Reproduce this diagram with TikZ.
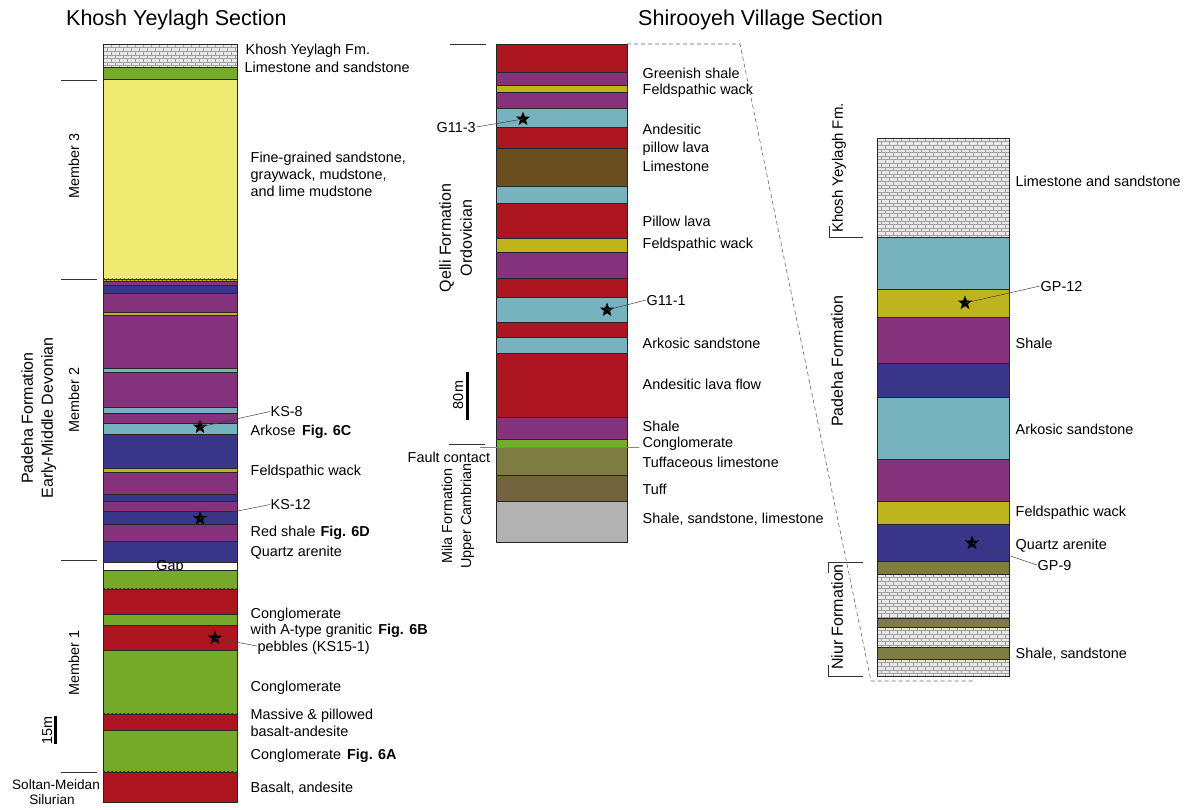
\documentclass[tikz,border=0pt]{standalone}
\usepackage{fontspec}
\setmainfont{Liberation Sans}
\usetikzlibrary{shapes.geometric,decorations.pathmorphing}

\definecolor{cRed}{RGB}{173,21,32}
\definecolor{cPur}{RGB}{132,50,124}
\definecolor{cBlu}{RGB}{57,54,138}
\definecolor{cCya}{RGB}{119,179,191}
\definecolor{cYel}{RGB}{189,180,30}
\definecolor{cLYe}{RGB}{238,234,114}
\definecolor{cGrn}{RGB}{118,170,42}
\definecolor{cBrn}{RGB}{107,78,31}
\definecolor{cOli}{RGB}{125,124,65}
\definecolor{cTuf}{RGB}{115,100,64}
\definecolor{cGry}{RGB}{179,178,179}
\definecolor{cFault}{RGB}{214,95,95}

\newcommand\lmst[4]{%
  \begin{scope}
    \clip (#1,#2) rectangle (#3,#4);
    \fill[gray!18] (#1,#2) rectangle (#3,#4);
    \pgfmathtruncatemacro\nr{(#4-#2)/3.6}
    \foreach \r in {0,...,\nr}{%
      \pgfmathsetmacro\yy{#2+\r*3.6}
      \pgfmathsetmacro\off{mod(\r,2)*4}
      \draw[gray!75,line width=0.4pt] (#1,\yy) -- (#3,\yy);
      \foreach \c in {0,8,...,136}{\draw[gray!75,line width=0.4pt] (#1+\c+\off,\yy) -- ++(0,3.6);}
    }
  \end{scope}
  \draw[bed] (#1,#2) rectangle (#3,#4);
}

\begin{document}
\begin{tikzpicture}[x=1pt,y=-1pt,
  bed/.style={draw=black!85, line width=0.6pt},
  lbl/.style={font=\fontsize{14.4}{17}\selectfont, anchor=west, inner sep=0.5pt, text height=10.3pt, text depth=0pt},
  ttl/.style={font=\fontsize{21.5}{25}\selectfont, anchor=west, inner sep=0pt, text height=15.4pt, text depth=0pt},
  rot/.style={font=\fontsize{16}{19}\selectfont, rotate=90, inner sep=0pt, text height=11.5pt, text depth=0pt},
  mem/.style={font=\fontsize{14.4}{17}\selectfont, rotate=90, inner sep=0pt, text height=10.3pt, text depth=0pt},
  tick/.style={line width=0.7pt, black!80},
  leader/.style={line width=0.5pt, black!75},
  smp/.style={star, star points=5, star point ratio=2.4, fill=black, inner sep=0pt, minimum size=15pt},
  wavy/.style={decorate, decoration={snake, amplitude=0.8pt, segment length=4pt}, line width=0.6pt, black!80},
  sbar/.style={line width=3pt},
]
\path[use as bounding box] (0,0) rectangle (1192,809);

% ---------------- titles
\node[ttl] (t1) at (66,18) {Khosh Yeylagh Section};
\node[ttl] (t2) at (638,18) {Shirooyeh Village Section};

% ---------------- left column (Khosh Yeylagh)
\lmst{103}{44}{237}{67}
\foreach \a/\b/\c in {67/79/cGrn, 79/279/cLYe, 279/281/cYel, 281/285/cPur, 285/293/cBlu,
  293/312/cPur, 312/315/cYel, 315/368/cPur, 368/372/cCya, 372/407/cPur, 407/413/cCya,
  413/423/cPur, 423/434/cCya, 434/468/cBlu, 468/472/cYel, 472/494/cPur, 494/501/cBlu,
  501/511/cPur, 511/524/cBlu, 524/541/cPur, 541/562/cBlu, 562/570/white}
  \filldraw[bed, fill=\c] (103,\a) rectangle (237,\b);
\node[lbl, anchor=center] (gap) at (170,565) {Gap};
\foreach \a/\b/\c in {570/589/cGrn, 589/614/cRed, 614/625/cGrn, 625/650/cRed, 650/714/cGrn,
  714/730/cRed, 730/772/cGrn, 772/802/cRed}
  \filldraw[bed, fill=\c] (103,\a) rectangle (237,\b);
\foreach \y in {279.5,589,714,772}
  \draw[wavy] (103,\y) -- (237,\y);

% left ticks and scale
\foreach \y in {80,279,560,772} \draw[tick] (61,\y) -- (97,\y);
\draw[sbar] (55,716) -- (55,744);

% left rotated labels
\node[rot] (pf) at (27,418) {Padeha Formation};
\node[rot] (emd) at (47,418) {Early-Middle Devonian};
\node[mem] (m3) at (74,166) {Member 3};
\node[mem] (m2) at (74,400) {Member 2};
\node[mem] (m1) at (74,663) {Member 1};
\node[mem] (s15) at (47,730) {15m};
\node[lbl, anchor=center, font=\fontsize{13.6}{16}\selectfont] (sm) at (56,784) {Soltan-Meidan};
\node[lbl, anchor=center, font=\fontsize{13.6}{16}\selectfont] (sil) at (52,799.5) {Silurian};

% left labels
\node[lbl] (kyf) at (245,49) {Khosh Yeylagh Fm.};
\node[lbl] (kyl) at (244,67) {Limestone and sandstone};
\node[lbl] (fg1) at (250,157) {Fine-grained sandstone,};
\node[lbl] (fg2) at (250,174) {graywack, mudstone,};
\node[lbl] (fg3) at (250,191.5) {and lime mudstone};
\node[lbl] (ks8) at (270,411.5) {KS-8};
\node[lbl] (ark) at (250,430) {Arkose\hspace{6.5pt}\textbf{Fig. 6C}};
\node[lbl] (fwl) at (250,470) {Feldspathic wack};
\node[lbl] (ks12) at (270,504.5) {KS-12};
\node[lbl] (rsh) at (250,531) {Red shale\hspace{5pt}\textbf{Fig. 6D}};
\node[lbl] (qal) at (250,551) {Quartz arenite};
\node[lbl] (cg1) at (250,613) {Conglomerate};
\node[lbl] (cg2) at (250,629.5) {with A-type granitic\hspace{6pt}\textbf{Fig. 6B}};
\node[lbl] (peb) at (257,646) {pebbles (KS15-1)};
\node[lbl] (cg3) at (250,686) {Conglomerate};
\node[lbl] (mas1) at (250,714) {Massive \& pillowed};
\node[lbl] (mas2) at (250,731) {basalt-andesite};
\node[lbl] (cg4) at (250,754) {Conglomerate\hspace{6pt}\textbf{Fig. 6A}};
\node[lbl] (bas) at (250,787.5) {Basalt, andesite};

\node[smp] (s8) at (200,427) {};
\node[smp] (s12) at (200,518.5) {};
\node[smp] (s15) at (215,638) {};
\draw[leader] (s8.center) -- (ks8.west);
\draw[leader] (s12.center) -- (ks12.west);
\draw[leader] (s15.center) -- (peb.west);

% ---------------- middle column (Shirooyeh)
\foreach \a/\b/\c in {44/72/cRed, 72/85/cPur, 85/92/cYel, 92/108/cPur, 108/127/cCya,
  127/148/cRed, 148/186/cBrn, 186/203/cCya, 203/238/cRed, 238/252/cYel, 252/278/cPur,
  278/297/cRed, 297/322/cCya, 322/337/cRed, 337/353/cCya, 353/417/cRed, 417/439/cPur,
  439/447/cGrn, 447/475/cOli, 475/501/cTuf, 501/542/cGry}
  \filldraw[bed, fill=\c] (496,\a) rectangle (627,\b);

\draw[tick] (450,44) -- (486,44);
\draw[tick] (449,444) -- (485,444);
\draw[sbar] (467,372) -- (467,420);
\draw[cFault, line width=0.7pt] (480,447.7) -- (639,447.7);

\node[rot] (qf) at (445,238) {Qelli Formation};
\node[rot] (ord) at (466,238) {Ordovician};
\node[mem] (mf) at (447,516) {Mila Formation};
\node[mem] (uc) at (466,516) {Upper Cambrian};
\node[mem] (m80) at (458,395) {80m};

\node[lbl] (gsh) at (642,73.5) {Greenish shale};
\node[lbl] (fw1) at (642,89) {Feldspathic wack};
\node[lbl] (g113) at (436,127) {G11-3};
\node[lbl] (and1) at (642,129) {Andesitic};
\node[lbl] (and2) at (642,147.5) {pillow lava};
\node[lbl] (lms) at (642,166) {Limestone};
\node[lbl] (plv) at (642,221) {Pillow lava};
\node[lbl] (fw2) at (642,243.5) {Feldspathic wack};
\node[lbl] (g111) at (646,300) {G11-1};
\node[lbl] (aks) at (642,343) {Arkosic sandstone};
\node[lbl] (alf) at (642,384) {Andesitic lava flow};
\node[lbl] (shm) at (642,426) {Shale};
\node[lbl] (cgm) at (642,442.5) {Conglomerate};
\node[lbl] (tfl) at (642,462.5) {Tuffaceous limestone};
\node[lbl] (tuf) at (642,489) {Tuff};
\node[lbl] (ssl) at (642,518.5) {Shale, sandstone, limestone};
\node[lbl] (fct) at (407,457) {Fault contact};

\node[smp] (sg3) at (523,119) {};
\node[smp] (sg1) at (607,310) {};
\draw[leader] (g113.east) -- (sg3.center);
\draw[leader] (sg1.center) -- (g111.west);

% ---------------- dashed correlation
\coordinate (d1) at (627,44);
\coordinate (d2) at (740,44);
\coordinate (d3) at (871,681);
\coordinate (d4) at (973,681);
\draw[gray!80!black, line width=0.6pt, dash pattern=on 4pt off 3pt] (d1) -- (d2) -- (d3) -- (d4);

% ---------------- right column (expanded)
\lmst{877}{138}{1009}{237}
\foreach \a/\b/\c in {237/289/cCya, 289/317/cYel, 317/363/cPur, 363/397/cBlu, 397/459/cCya,
  459/501/cPur, 501/524/cYel, 524/561/cBlu, 561/574/cOli}
  \filldraw[bed, fill=\c] (877,\a) rectangle (1009,\b);
\lmst{877}{574}{1009}{618}
\filldraw[bed, fill=cOli] (877,618) rectangle (1009,627);
\lmst{877}{627}{1009}{647}
\filldraw[bed, fill=cOli] (877,647) rectangle (1009,659);
\lmst{877}{659}{1009}{676}

\draw[tick] (829,237) -- (863,237);
\draw[tick] (829,226) -- (829,237);
\draw[tick] (828,562) -- (863,562);
\draw[tick] (828,562) -- (828,573);
\draw[tick] (828,676) -- (863,676);
\draw[tick] (828,665) -- (828,676);

\node[rot, font=\fontsize{15}{18}\selectfont] (kyr) at (837,168) {Khosh Yeylagh Fm.};
\node[rot] (pfr) at (837,361) {Padeha Formation};
\node[rot] (nfr) at (837,617) {Niur Formation};

\node[lbl] (rls) at (1015,181) {Limestone and sandstone};
\node[lbl] (gp12) at (1040,286) {GP-12};
\node[lbl] (rsh2) at (1015,343) {Shale};
\node[lbl] (rak) at (1015,429) {Arkosic sandstone};
\node[lbl] (rfw) at (1015,511) {Feldspathic wack};
\node[lbl] (rqa) at (1015,544) {Quartz arenite};
\node[lbl] (gp9) at (1037,565) {GP-9};
\node[lbl] (rss) at (1015,653) {Shale, sandstone};

\node[smp] (sp12) at (965,303) {};
\node[smp] (sp9) at (972,543) {};
\draw[leader] (sp12.center) -- (gp12.west);
\draw[leader] (sp9.center) -- (gp9.west);
\end{tikzpicture}
\end{document}
